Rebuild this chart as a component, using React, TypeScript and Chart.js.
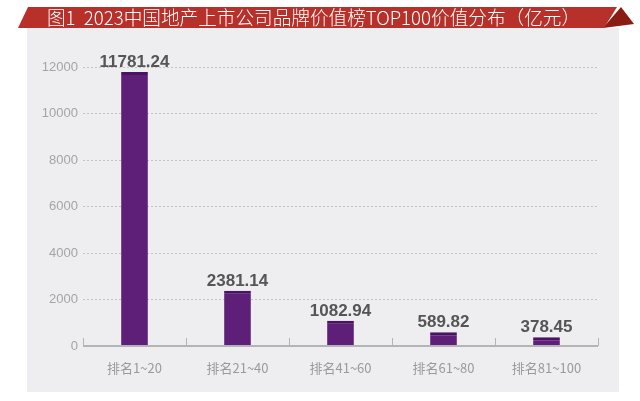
import React, { useEffect, useRef } from "react";
import { Chart, registerables } from "chart.js";

Chart.register(...registerables);

const categories = ["排名1~20", "排名21~40", "排名41~60", "排名61~80", "排名81~100"];
const values = [11781.24, 2381.14, 1082.94, 589.82, 378.45];
const valueLabels = ["11781.24", "2381.14", "1082.94", "589.82", "378.45"];
const yTicks = [0, 2000, 4000, 6000, 8000, 10000, 12000];
const titleText = "图1  2023中国地产上市公司品牌价值榜TOP100价值分布（亿元）";

const decorPlugin = {
  id: "decor",
  beforeDraw(chart: any) {
    const ctx = chart.ctx;
    ctx.save();
    ctx.fillStyle = "#ffffff";
    ctx.fillRect(0, 0, chart.width, chart.height);
    // panel
    ctx.fillStyle = "#eeeef0";
    ctx.fillRect(27, 28, 592, 364);
    // dark triangle
    ctx.fillStyle = "#8a1c14";
    ctx.beginPath();
    ctx.moveTo(603, 28);
    ctx.lineTo(621, 7);
    ctx.lineTo(634, 24);
    ctx.closePath();
    ctx.fill();
    // red banner
    ctx.fillStyle = "#b8302a";
    ctx.beginPath();
    ctx.moveTo(28, 7);
    ctx.lineTo(617, 7);
    ctx.lineTo(604, 28);
    ctx.lineTo(18, 28);
    ctx.closePath();
    ctx.fill();
    // title
    ctx.fillStyle = "#ffffff";
    ctx.font = "300 19px 'Noto Sans CJK SC', 'Liberation Sans', sans-serif";
    ctx.textAlign = "left";
    ctx.textBaseline = "middle";
    ctx.fillText(titleText, 47, 18, 533);
    ctx.restore();
  },
  afterDatasetsDraw(chart: any) {
    const ctx = chart.ctx;
    const area = chart.chartArea;
    ctx.save();
    // axis line
    ctx.strokeStyle = "#b4b4b4";
    ctx.lineWidth = 2;
    ctx.beginPath();
    ctx.moveTo(area.left, area.bottom);
    ctx.lineTo(area.right, area.bottom);
    ctx.stroke();
    // boundary ticks
    ctx.lineWidth = 1;
    const n = categories.length;
    const step = (area.right - area.left) / n;
    for (let i = 0; i <= n; i++) {
      const px = Math.round(area.left + step * i) + 0.5;
      ctx.beginPath();
      ctx.moveTo(px, area.bottom - 8);
      ctx.lineTo(px, area.bottom);
      ctx.stroke();
    }
    // value labels
    const meta = chart.getDatasetMeta(0);
    ctx.fillStyle = "#555555";
    ctx.font = "bold 17px 'Liberation Sans', Arial, sans-serif";
    ctx.textAlign = "center";
    ctx.textBaseline = "alphabetic";
    meta.data.forEach((bar: any, i: number) => {
      ctx.fillText(valueLabels[i], bar.x, bar.y - 5);
    });
    ctx.restore();
  },
};

export default function App() {
  const ref = useRef<HTMLCanvasElement>(null);
  useEffect(() => {
    document.body.style.margin = "0";
    const chart = new Chart(ref.current as HTMLCanvasElement, {
      type: "bar",
      data: {
        labels: categories,
        datasets: [
          {
            data: values,
            backgroundColor: "#5e1f79",
            borderColor: "#4a1262",
            borderWidth: { top: 3, left: 0, right: 0, bottom: 0 },
            categoryPercentage: 1,
            barPercentage: 0.26,
          },
        ],
      },
      options: {
        responsive: false,
        animation: false,
        layout: { padding: { left: 27, right: 42, top: 67, bottom: 0 } },
        plugins: { legend: { display: false }, tooltip: { enabled: false }, title: { display: false } },
        scales: {
          x: {
            grid: { display: false },
            border: { display: false },
            ticks: {
              color: "#9a9a9a",
              font: { size: 13, family: "'Noto Sans CJK SC', 'Liberation Sans', sans-serif" },
              padding: 6,
              maxRotation: 0,
            },
            afterFit: (s: any) => {
              s.height = 55;
            },
          },
          y: {
            min: 0,
            max: 12000,
            afterBuildTicks: (s: any) => {
              s.ticks = yTicks.map((v) => ({ value: v }));
            },
            border: { display: false, dash: [2, 2] },
            grid: {
              color: (c: any) => (c.tick && c.tick.value === 0 ? "rgba(0,0,0,0)" : "#c4c4c4"),
              drawTicks: false,
              lineWidth: 1,
            },
            ticks: {
              color: "#a4a4a4",
              font: { size: 13, family: "'Liberation Sans', Arial, sans-serif" },
              padding: 5,
              callback: (v: any) => String(v),
            },
            afterFit: (s: any) => {
              s.width = 56;
            },
          },
        },
      },
      plugins: [decorPlugin],
    });
    return () => chart.destroy();
  }, []);
  return (
    <div style={{ position: "absolute", left: 0, top: 0, width: 640, height: 401 }}>
      <canvas ref={ref} width={640} height={401} style={{ display: "block" }} />
    </div>
  );
}
